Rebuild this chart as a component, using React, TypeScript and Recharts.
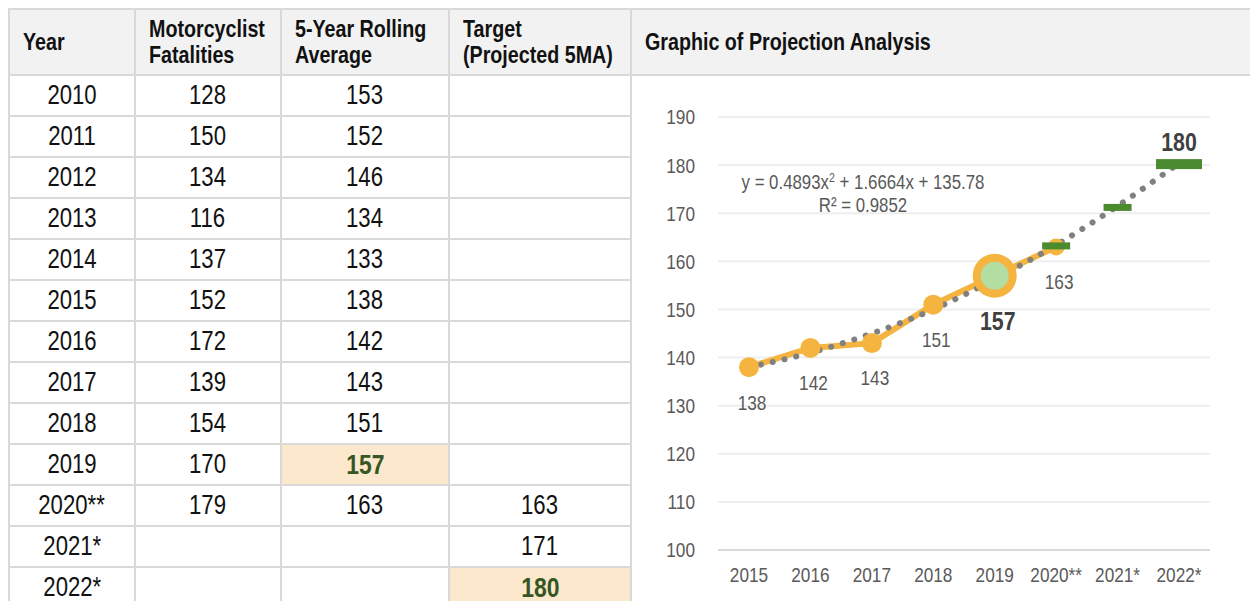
import { ComposedChart, Line, XAxis, YAxis, CartesianGrid, LabelList } from 'recharts';

// table data
const tableYears = ['2010', '2011', '2012', '2013', '2014', '2015', '2016', '2017', '2018', '2019', '2020**', '2021*', '2022*'];
const fatalities = [128, 150, 134, 116, 137, 152, 172, 139, 154, 170, 179, null, null];
const rollingAvg = [153, 152, 146, 134, 133, 138, 142, 143, 151, 157, 163, null, null];
const targets = [null, null, null, null, null, null, null, null, null, null, 163, 171, 180];

// chart data
const chartYears = ['2015', '2016', '2017', '2018', '2019', '2020**', '2021*', '2022*'];
const chartRolling = [138, 142, 143, 151, 157, 163, null, null];
const chartTarget = [null, null, null, null, null, 163, 171, 180];
const chartTrend = [138, 141, 145, 150, 156.3, 163.4, 171.5, 180.4];
const yTicks = [100, 110, 120, 130, 140, 150, 160, 170, 180, 190];

const FONT = "'Liberation Sans', Arial, sans-serif";
const SX = 0.82; // the reference uses a condensed face, squeeze regular Liberation Sans
const BORDER = '2px solid #D9D9D9';
const ORANGE = '#F4B43F';
const GREEN = '#4B8A2E';
const TEXT_GRAY = '#595959';

const colWidths = [126, 146, 168, 182, 620];
const headers = [['Year'], ['Motorcyclist', 'Fatalities'], ['5-Year Rolling', 'Average'], ['Target', '(Projected 5MA)'], ['Graphic of Projection Analysis']];

const chartData = chartYears.map((year, i) => ({
  year,
  rolling: chartRolling[i],
  target: chartTarget[i],
  trend: chartTrend[i],
}));

const Narrow = ({ x, y, anchor, dy, size, bold, fill, children }: any) => (
  <g transform={`translate(${x},${y}) scale(${SX},1)`}>
    <text x={0} y={0} dy={dy} textAnchor={anchor} fontFamily={FONT} fontSize={size} fontWeight={bold ? 'bold' : 'normal'} fill={fill}>
      {children}
    </text>
  </g>
);

const XTick = ({ x, y, payload }: any) => (
  <Narrow x={x} y={y} anchor="middle" dy="0.71em" size={21} fill={TEXT_GRAY}>
    {payload.value}
  </Narrow>
);

const YTick = ({ x, y, payload }: any) => (
  <Narrow x={x} y={y} anchor="end" dy="0.355em" size={21} fill={TEXT_GRAY}>
    {payload.value}
  </Narrow>
);

const RollingDot = (props: any) => {
  const { cx, cy, index, value } = props;
  if (value == null || cy == null) return <g key={`r${index}`} />;
  if (index === 4) {
    return (
      <g key={`r${index}`}>
        <circle cx={cx} cy={cy} r={22} fill={ORANGE} />
        <circle cx={cx} cy={cy} r={14} fill="#B3DDA1" />
      </g>
    );
  }
  return <circle key={`r${index}`} cx={cx} cy={cy} r={index === 5 ? 8.5 : 10} fill={ORANGE} />;
};

const TargetDot = (props: any) => {
  const { cx, cy, index, value } = props;
  if (value == null || cy == null) return <g key={`t${index}`} />;
  const big = index === 7;
  const w = big ? 46 : 28;
  const h = big ? 10 : 7;
  return <rect key={`t${index}`} x={cx - w / 2} y={cy - h / 2 - 1} width={w} height={h} fill={GREEN} />;
};

const RollingLabel = (props: any) => {
  const { x, y, value, index } = props;
  if (value == null) return null;
  const bold = index === 4;
  return (
    <Narrow
      x={x + 3}
      y={y + (bold ? 45 : 35)}
      anchor="middle"
      dy="0.35em"
      size={bold ? 26 : 21}
      bold={bold}
      fill={bold ? '#404040' : TEXT_GRAY}
    >
      {value}
    </Narrow>
  );
};

const TargetLabel = (props: any) => {
  const { x, y, value, index } = props;
  if (value == null || index !== 7) return null;
  return (
    <Narrow x={x} y={y - 23} anchor="middle" dy="0.35em" size={26} bold fill="#404040">
      {value}
    </Narrow>
  );
};

function Table() {
  const cell = (content: any, opts: any = {}) => (
    <div
      key={opts.key}
      style={{
        boxSizing: 'border-box',
        borderRight: opts.noRight ? 'none' : BORDER,
        borderBottom: BORDER,
        display: 'flex',
        alignItems: 'center',
        justifyContent: opts.left ? 'flex-start' : 'center',
        paddingLeft: opts.left ? 13 : 0,
        background: opts.bg || 'transparent',
        whiteSpace: 'nowrap',
        ...opts.style,
      }}
    >
      {content}
    </div>
  );

  const squeeze = (origin: string) => ({ display: 'inline-block', transform: `scaleX(${SX})`, transformOrigin: origin });

  const children: any[] = [];
  headers.forEach((lines, i) => {
    children.push(
      cell(
        <div style={{ fontWeight: 'bold', fontSize: 24, lineHeight: '26px', color: '#111', ...squeeze('left center') }}>
          {lines.map((l) => (
            <div key={l}>{l}</div>
          ))}
        </div>,
        { key: `h${i}`, left: true, bg: '#F2F2F2', noRight: i === 4 }
      )
    );
  });

  tableYears.forEach((year, r) => {
    const hlAvg = r === 9;
    const hlTarget = r === 12;
    const base = { fontSize: 27, color: '#111', ...squeeze('center') };
    const hl = { fontSize: 28, fontWeight: 'bold', color: '#375623', ...squeeze('center') };
    children.push(cell(<span style={base}>{year}</span>, { key: `y${r}`, style: { gridColumn: 1, gridRow: r + 2 } }));
    children.push(cell(<span style={base}>{fatalities[r] ?? ''}</span>, { key: `f${r}`, style: { gridColumn: 2, gridRow: r + 2 } }));
    children.push(
      cell(<span style={hlAvg ? hl : base}>{rollingAvg[r] ?? ''}</span>, {
        key: `a${r}`,
        bg: hlAvg ? '#FCE9CD' : undefined,
        style: { gridColumn: 3, gridRow: r + 2 },
      })
    );
    children.push(
      cell(<span style={hlTarget ? hl : base}>{targets[r] ?? ''}</span>, {
        key: `t${r}`,
        bg: hlTarget ? '#FCE9CD' : undefined,
        style: { gridColumn: 4, gridRow: r + 2 },
      })
    );
  });

  return (
    <div
      style={{
        position: 'absolute',
        left: 8,
        top: 8,
        display: 'grid',
        gridTemplateColumns: colWidths.map((w) => `${w}px`).join(' '),
        gridTemplateRows: `66px repeat(13, 41px)`,
        borderTop: BORDER,
        borderLeft: BORDER,
        fontFamily: FONT,
      }}
    >
      {children}
    </div>
  );
}

export default function App() {
  return (
    <div style={{ position: 'absolute', left: 0, top: 0, width: 1250, height: 601, overflow: 'hidden', background: '#fff', fontFamily: FONT }}>
      <Table />
      <div style={{ position: 'absolute', left: 640, top: 90 }}>
        <ComposedChart width={600} height={510} data={chartData} margin={{ top: 27, right: 30, bottom: 0, left: 0 }}>
          <CartesianGrid vertical={false} stroke="#EEEEEE" strokeWidth={2} />
          <XAxis
            dataKey="year"
            height={50}
            padding={{ left: 31, right: 31 }}
            tickLine={false}
            tickSize={0}
            tickMargin={17}
            axisLine={{ stroke: '#D9D9D9', strokeWidth: 2 }}
            tick={XTick}
            interval={0}
          />
          <YAxis
            width={78}
            domain={[100, 190]}
            ticks={yTicks}
            axisLine={false}
            tickLine={false}
            tickSize={0}
            tickMargin={23}
            tick={YTick}
          />
          <Line
            dataKey="rolling"
            stroke={ORANGE}
            strokeWidth={6}
            dot={RollingDot}
            activeDot={false}
            isAnimationActive={false}
          >
            <LabelList dataKey="rolling" content={RollingLabel} />
          </Line>
          <Line dataKey="target" stroke="none" dot={TargetDot} activeDot={false} isAnimationActive={false}>
            <LabelList dataKey="target" content={TargetLabel} />
          </Line>
          <Line
            dataKey="trend"
            type="monotone"
            stroke="#808080"
            strokeWidth={6}
            strokeLinecap="round"
            strokeDasharray="0.1 12"
            dot={false}
            activeDot={false}
            isAnimationActive={false}
          />
        </ComposedChart>
      </div>
      <div
        style={{
          position: 'absolute',
          left: 700,
          width: 326,
          top: 170,
          textAlign: 'center',
          fontSize: 20.5,
          lineHeight: '23px',
          color: TEXT_GRAY,
          whiteSpace: 'nowrap',
          transform: `scaleX(${SX})`,
          transformOrigin: '163px 0',
        }}
      >
        <div>
          y = 0.4893x<sup style={{ fontSize: 13, verticalAlign: 'top', lineHeight: '16px' }}>2</sup> + 1.6664x + 135.78
        </div>
        <div>R² = 0.9852</div>
      </div>
    </div>
  );
}
